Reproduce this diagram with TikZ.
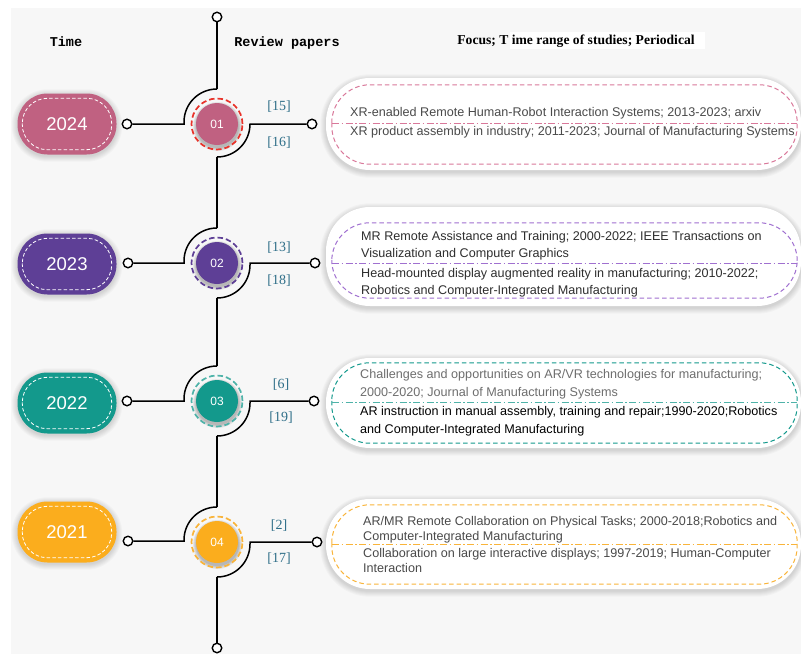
\documentclass[tikz,border=0pt]{standalone}
\usepackage{fontspec}
\setmainfont{Liberation Sans}
\newfontfamily\serifface{Liberation Serif}
\newfontfamily\monoface{Liberation Mono}
\usetikzlibrary{backgrounds}

\definecolor{bgc}{HTML}{F7F7F7}
\definecolor{cpink}{HTML}{C06181}
\definecolor{cpinkl}{HTML}{D9789A}
\definecolor{cpurple}{HTML}{5E3F96}
\definecolor{cpurplel}{HTML}{A070D0}
\definecolor{cteal}{HTML}{13998C}
\definecolor{ctealrim}{HTML}{4FB3A9}
\definecolor{corange}{HTML}{FBAD1D}
\definecolor{corangel}{HTML}{F9B43A}
\definecolor{cred}{HTML}{E8332A}
\definecolor{refc}{HTML}{2E6E88}
\definecolor{txtd}{HTML}{2E2E2E}
\definecolor{txtg}{HTML}{4A4A4A}

\tikzset{
  wire/.style={line width=1.5pt, black},
  pin/.style={circle, draw=black, line width=1.4pt, fill=white, minimum size=9.5pt, inner sep=0pt},
  yearpill/.style={fill=#1, rounded corners=30pt, minimum width=99pt, minimum height=61pt,
    inner sep=0pt, text=white, font=\fontsize{18.5}{18.5}\selectfont},
  pillrim/.style={white, line width=0.8pt, dash pattern=on 3.5pt off 2.2pt, rounded corners=25pt},
  hub/.style={circle, fill=#1, minimum size=42pt, inner sep=0pt, text=white,
    font=\fontsize{12}{12}\selectfont},
  hubrim/.style={draw=#1, line width=1.7pt, dash pattern=on 5.5pt off 3pt, circle, minimum size=51pt, inner sep=0pt},
  infobox/.style={fill=white, rounded corners=44pt, minimum width=475pt, inner sep=0pt},
  boxrim/.style={draw=#1, line width=1pt, dash pattern=on 4.5pt off 3pt, rounded corners=38pt},
  midrule/.style={draw=#1, line width=1pt, dash pattern=on 7pt off 2.5pt on 1.5pt off 2.5pt},
  entry/.style={anchor=west, align=left, inner sep=0pt, font=\fontsize{12.6}{#1}\selectfont},
  ref/.style={text=refc, inner sep=0pt, font=\serifface\fontsize{14}{14}\selectfont},
  head/.style={inner sep=0pt, font=\monoface\bfseries\fontsize{13.5}{13.5}\selectfont},
  haze/.style={fill=black, opacity=#1},
}

% soft shadow under a rounded box: #1 node, #2 corner radius, #3 drop, #4 layer opacity
\newcommand\boxhaze[4]{%
  \begin{pgfonlayer}{background}
  \foreach \e in {0.5,1.5,2.5,3.5,4.5,5.5}{
    \pgfmathsetmacro\rr{#2+\e}
    \fill[haze=#4, rounded corners=\rr pt]
      ([shift={(-\e,-\e+#3)}]#1.north west) rectangle ([shift={(\e,\e+#3)}]#1.south east);
  }
  \end{pgfonlayer}}
% soft shadow under a disc: #1 node, #2 radius
\newcommand\dischaze[2]{%
  \begin{pgfonlayer}{background}
  \foreach \e in {0.5,1.5,2.5,3.5}{
    \fill[haze=0.07] ([shift={(0.5,2.5)}]#1.center) circle[radius=#2+\e];
  }
  \end{pgfonlayer}}

\begin{document}
\begin{tikzpicture}[x=1pt, y=-1pt]
\useasboundingbox (0,0) rectangle (801,654);
\begin{pgfonlayer}{background}
\fill[white] (0,0) rectangle (801,654);
\fill[bgc] (11,8) rectangle (801,654);
\end{pgfonlayer}

% column headings
\node[head] (hTime) at (66,42) {Time};
\node[head] (hRev) at (287,43) {Review papers};
\fill[white] (510,32) rectangle (705,49);
\node[inner sep=0pt, font=\serifface\bfseries\fontsize{13.6}{13.6}\selectfont] (hFocus) at (576,41)
  {Focus; T ime range of studies; Periodical};

% spine end points
\node[pin] (top) at (217,17) {};
\node[pin] (bottom) at (217,648) {};

% ---------------- 2024 ----------------
\node[yearpill=cpink] (y1) at (67,124) {2024};
\boxhaze{y1}{30}{1.5}{0.025}
\draw[pillrim] ([shift={(5,5)}]y1.north west) rectangle ([shift={(-5,-5)}]y1.south east);
\node[pin] (l1) at (127,124) {};
\node[pin] (r1) at (312,124) {};
\node[hub=cpink] (h1) at (217,124) {01};
\dischaze{h1}{21}
\node[hubrim=cred] (g1) at (217,124) {};
\coordinate (a1) at (217,89);
\coordinate (b1) at (217,157);
\draw[wire] (l1.east) -- (184,124) -- (184,122) arc[start angle=180, end angle=270, radius=33];
\draw[wire] (r1.west) -- (250,124) -- (250,124) arc[start angle=0, end angle=90, radius=33];
\draw[wire] (top.south) -- (a1);
\node[ref] (c15) at (279,107) {[15]};
\node[ref] (c16) at (279,143) {[16]};
\node[infobox, minimum height=92pt] (x1) at (563.5,124) {};
\boxhaze{x1}{44}{2}{0.022}
\draw[boxrim=cpinkl] ([shift={(6,7)}]x1.north west) rectangle ([shift={(-4,-6)}]x1.south east);
\draw[midrule=cpinkl] (332,123) -- (797,123);
\node[entry=15, text=txtg] (t1a) at (350,113) {XR-enabled Remote Human-Robot Interaction Systems; 2013-2023; arxiv};
\node[entry=15, text=txtg] (t1b) at (350,132) {XR product assembly in industry; 2011-2023; Journal of Manufacturing Systems};

% ---------------- 2023 ----------------
\node[yearpill=cpurple] (y2) at (67,264) {2023};
\boxhaze{y2}{30}{1.5}{0.025}
\draw[pillrim] ([shift={(5,5)}]y2.north west) rectangle ([shift={(-5,-5)}]y2.south east);
\node[pin] (l2) at (128,263) {};
\node[pin] (r2) at (315,263) {};
\node[hub=cpurple] (h2) at (217,263) {02};
\dischaze{h2}{21}
\node[hubrim=cpurple] (g2) at (217,263) {};
\coordinate (a2) at (217,228);
\coordinate (b2) at (217,298);
\draw[wire] (l2.east) -- (184,263) -- (184,261) arc[start angle=180, end angle=270, radius=33];
\draw[wire] (r2.west) -- (250,263) -- (250,265) arc[start angle=0, end angle=90, radius=33];
\draw[wire] (b1) -- (a2);
\node[ref] (c13) at (279,248) {[13]};
\node[ref] (c18) at (279,281) {[18]};
\node[infobox, minimum height=99pt] (x2) at (563.5,256.5) {};
\boxhaze{x2}{44}{2}{0.022}
\draw[boxrim=cpurplel] ([shift={(6,16)}]x2.north west) rectangle ([shift={(-4,-8)}]x2.south east);
\draw[midrule=cpurplel] (332,263) -- (797,263);
\node[entry=17, text=txtd] (t2a) at (361,245.5) {MR Remote Assistance and Training; 2000-2022; IEEE Transactions on\\Visualization and Computer Graphics};
\node[entry=17, text=txtd] (t2b) at (361,282.5) {Head-mounted display augmented reality in manufacturing; 2010-2022;\\Robotics and Computer-Integrated Manufacturing};

% ---------------- 2022 ----------------
\node[yearpill=cteal] (y3) at (67,403) {2022};
\boxhaze{y3}{30}{1.5}{0.025}
\draw[pillrim] ([shift={(5,5)}]y3.north west) rectangle ([shift={(-5,-5)}]y3.south east);
\node[pin] (l3) at (127,401) {};
\node[pin] (r3) at (314,401) {};
\node[hub=cteal] (h3) at (217,401) {03};
\dischaze{h3}{21}
\node[hubrim=ctealrim] (g3) at (217,401) {};
\coordinate (a3) at (217,366);
\coordinate (b3) at (217,436);
\draw[wire] (l3.east) -- (184,401) -- (184,399) arc[start angle=180, end angle=270, radius=33];
\draw[wire] (r3.west) -- (250,401) -- (250,403) arc[start angle=0, end angle=90, radius=33];
\draw[wire] (b2) -- (a3);
\node[ref] (c6) at (281,385) {[6]};
\node[ref] (c19) at (281,418) {[19]};
\node[infobox, minimum height=90pt] (x3) at (563.5,403) {};
\boxhaze{x3}{44}{2}{0.022}
\draw[boxrim=cteal] ([shift={(6,5)}]x3.north west) rectangle ([shift={(-4,-5)}]x3.south east);
\draw[midrule=ctealrim] (332,402) -- (797,402);
\node[entry=18, text=txtg!80] (t3a) at (360,384) {Challenges and opportunities on AR/VR technologies for manufacturing;\\2000-2020; Journal of Manufacturing Systems};
\node[entry=18, text=black] (t3b) at (360,421) {AR instruction in manual assembly, training and repair;1990-2020;Robotics\\and Computer-Integrated Manufacturing};

% ---------------- 2021 ----------------
\node[yearpill=corange] (y4) at (67,532) {2021};
\boxhaze{y4}{30}{1.5}{0.025}
\draw[pillrim] ([shift={(5,5)}]y4.north west) rectangle ([shift={(-5,-5)}]y4.south east);
\node[pin] (l4) at (128,541) {};
\node[pin] (r4) at (317,542) {};
\node[hub=corange] (h4) at (217,542) {04};
\dischaze{h4}{21}
\node[hubrim=corangel] (g4) at (217,542) {};
\coordinate (a4) at (217,507);
\coordinate (b4) at (217,577);
\draw[wire] (l4.east) -- (184,541) -- (184,540) arc[start angle=180, end angle=270, radius=33];
\draw[wire] (r4.west) -- (250,542) -- (250,544) arc[start angle=0, end angle=90, radius=33];
\draw[wire] (b3) -- (a4);
\draw[wire] (b4) -- (bottom.north);
\node[ref] (c2) at (279,526) {[2]};
\node[ref] (c17) at (279,559) {[17]};
\node[infobox, minimum height=90pt] (x4) at (563.5,544) {};
\boxhaze{x4}{44}{2}{0.022}
\draw[boxrim=corangel] ([shift={(6,6)}]x4.north west) rectangle ([shift={(-4,-5)}]x4.south east);
\draw[midrule=corangel] (332,544) -- (797,544);
\node[entry=15, text=txtg] (t4a) at (363,529.5) {AR/MR Remote Collaboration on Physical Tasks; 2000-2018;Robotics and\\Computer-Integrated Manufacturing};
\node[entry=15, text=txtg] (t4b) at (363,560.5) {Collaboration on large interactive displays; 1997-2019; Human-Computer\\Interaction};
\end{tikzpicture}
\end{document}
